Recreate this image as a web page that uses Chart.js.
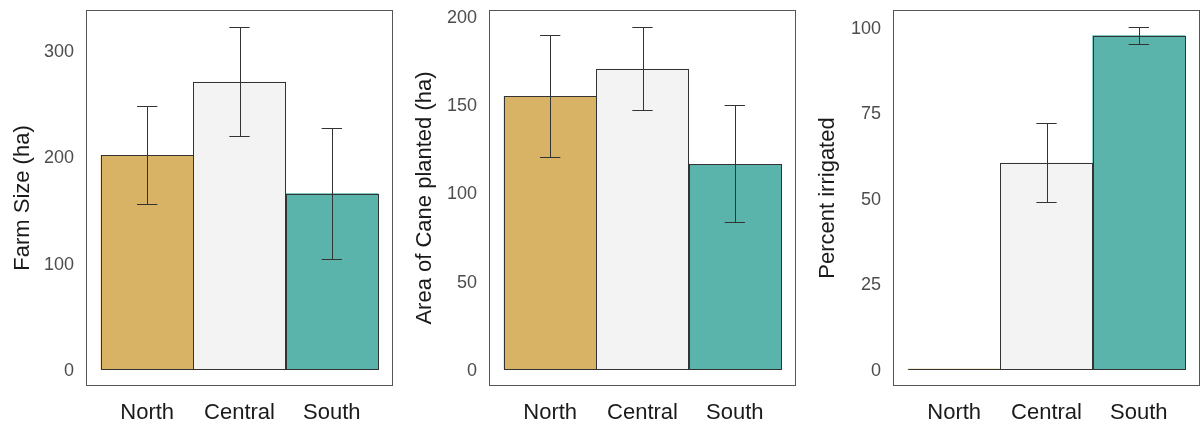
<!DOCTYPE html>
<html><head><meta charset="utf-8">
<script src="https://cdn.jsdelivr.net/npm/chart.js@4.4.0/dist/chart.umd.min.js"></script>
<style>
html,body{margin:0;padding:0;background:#fff;}
#wrap{display:flex;width:1200px;height:426px;}
canvas{display:block;}
</style>
</head><body>
<div id="wrap">
<canvas id="c1" width="400" height="426"></canvas>
<canvas id="c2" width="400" height="426"></canvas>
<canvas id="c3" width="400" height="426"></canvas>
</div>
<script>
const categories = ['North', 'Central', 'South'];
const barColors = ['#d8b365', '#f3f3f3', '#5ab4ac'];

const farmSize = [201, 270, 165];
const farmSizeLow = [155, 219, 103.5];
const farmSizeHigh = [247, 322, 227];

const caneArea = [154.5, 170, 116];
const caneAreaLow = [120, 146.5, 83.5];
const caneAreaHigh = [189.5, 194, 149.5];

const irrigated = [0, 60.3, 97.5];
const irrigatedLow = [null, 48.8, 95.1];
const irrigatedHigh = [null, 72, 100.1];

const ticksFarm = [0, 100, 200, 300];
const ticksCane = [0, 50, 100, 150, 200];
const ticksIrr = [0, 25, 50, 75, 100];

Chart.defaults.font.family = "'Liberation Sans', Arial, sans-serif";

const panelPlugin = {
  id: 'panel',
  afterDatasetsDraw(chart, args, opts) {
    const ctx = chart.ctx;
    const meta = chart.getDatasetMeta(0);
    const xs = chart.scales.x, ys = chart.scales.y;
    ctx.save();
    ctx.lineWidth = 1;
    ctx.strokeStyle = '#333333';
    meta.data.forEach(bar => {
      const p = bar.getProps(['x', 'y', 'base', 'width'], true);
      const l = p.x - p.width / 2, r = p.x + p.width / 2;
      const top = Math.min(p.y, p.base), bot = Math.max(p.y, p.base);
      ctx.strokeRect(Math.round(l) + 0.5, Math.round(top) + 0.5, Math.round(r - l), Math.round(bot - top));
    });
    const low = opts.low, high = opts.high;
    low.forEach((lo, i) => {
      if (lo == null) return;
      const hi = high[i];
      const xc = Math.round(xs.getPixelForValue(i + 1)) + 0.5;
      const xl = xs.getPixelForValue(i + 1 - 0.11), xr = xs.getPixelForValue(i + 1 + 0.11);
      const yl = Math.round(ys.getPixelForValue(lo)) + 0.5, yh = Math.round(ys.getPixelForValue(hi)) + 0.5;
      ctx.beginPath();
      ctx.moveTo(xc, yh); ctx.lineTo(xc, yl);
      ctx.moveTo(xl, yh); ctx.lineTo(xr, yh);
      ctx.moveTo(xl, yl); ctx.lineTo(xr, yl);
      ctx.stroke();
    });
    const a = chart.chartArea;
    ctx.strokeStyle = '#555555';
    ctx.strokeRect(a.left + 0.5, a.top + 0.5, a.right - a.left - 1, a.bottom - a.top - 1);
    ctx.restore();
  }
};

function makePanel(id, cfg) {
  new Chart(document.getElementById(id), {
    type: 'bar',
    data: {
      datasets: [{
        data: categories.map((c, i) => ({ x: i + 1, y: cfg.values[i] })),
        backgroundColor: barColors,
        borderWidth: 0,
        barPercentage: 1,
        categoryPercentage: 1
      }]
    },
    options: {
      responsive: false,
      animation: false,
      layout: { padding: { left: 0, top: 10, right: cfg.rightPad, bottom: 0 } },
      plugins: {
        legend: { display: false },
        tooltip: { enabled: false },
        panel: { low: cfg.low, high: cfg.high }
      },
      scales: {
        x: {
          type: 'linear',
          offset: false,
          min: 0.337, max: 3.663,
          grid: { display: false, drawTicks: false },
          border: { display: false },
          ticks: {
            font: { size: 22 }, color: '#1a1a1a', padding: 14,
            autoSkip: false, maxRotation: 0,
            callback: v => categories[Math.round(v) - 1] || ''
          },
          afterBuildTicks: s => { s.ticks = categories.map((c, i) => ({ value: i + 1 })); },
          afterFit: s => { s.height = 40; s.paddingLeft = 0; s.paddingRight = 0; }
        },
        y: {
          type: 'linear',
          min: cfg.yMin, max: cfg.yMax,
          grid: { display: false, drawTicks: false },
          border: { display: false },
          ticks: { font: { size: 18 }, color: '#4d4d4d', padding: 12, labelOffset: 2 },
          afterBuildTicks: s => { s.ticks = cfg.ticks.map(v => ({ value: v })); },
          afterFit: s => { s.width = cfg.leftW; s.paddingTop = 0; s.paddingBottom = 0; },
          title: {
            display: true, text: cfg.title,
            font: { size: 22 }, color: '#1a1a1a',
            padding: { top: cfg.titlePad, bottom: 0 }
          }
        }
      }
    },
    plugins: [panelPlugin]
  });
}

makePanel('c1', { values: farmSize, low: farmSizeLow, high: farmSizeHigh, ticks: ticksFarm,
  yMin: -16, yMax: 337.6, leftW: 86, rightPad: 7, titlePad: 10, title: 'Farm Size (ha)' });
makePanel('c2', { values: caneArea, low: caneAreaLow, high: caneAreaHigh, ticks: ticksCane,
  yMin: -9.63, yMax: 203.4, leftW: 89, rightPad: 4, titlePad: 12, title: 'Area of Cane planted (ha)' });
makePanel('c3', { values: irrigated, low: irrigatedLow, high: irrigatedHigh, ticks: ticksIrr,
  yMin: -4.97, yMax: 104.97, leftW: 93, rightPad: 0, titlePad: 15, title: 'Percent irrigated' });
</script>
</body></html>
